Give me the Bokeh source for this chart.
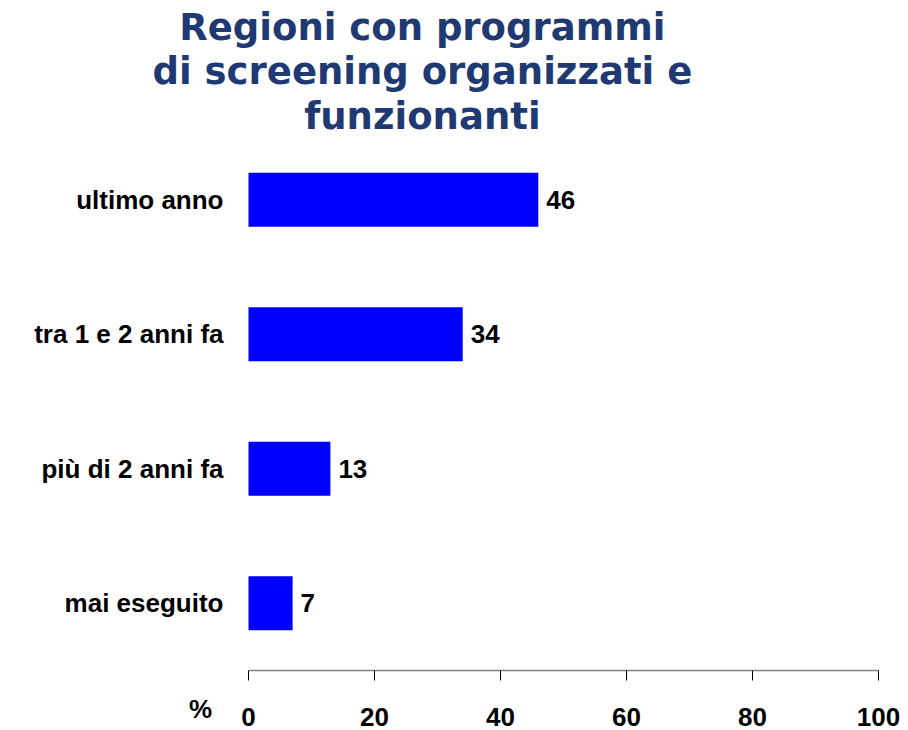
from bokeh.plotting import figure
from bokeh.models import Range1d, FixedTicker, ColumnDataSource
from bokeh.core.properties import value
from bokeh.embed import file_html
from bokeh.resources import INLINE

# ---- data ----
title_lines = ["Regioni con programmi", "di screening organizzati e", "funzionanti"]
categories = ["ultimo anno", "tra 1 e 2 anni fa", "più di 2 anni fa", "mai eseguito"]
values = [46, 34, 13, 7]
x_ticks = [0, 20, 40, 60, 80, 100]
axis_unit = "%"

n = len(categories)
ypos = [n - 1 - i for i in range(n)]

# ---- layout (pixels) ----
W, H = 906, 730
X0_PX, X100_PX = 248, 878          # where 0 and 100 fall
Y_TOP_PX, Y_BOT_PX = 132, 670      # top / bottom of the category band
sx = (X100_PX - X0_PX) / 100.0
sy = (Y_BOT_PX - Y_TOP_PX) / n
x_range = Range1d(-X0_PX / sx, 100 + (W - X100_PX) / sx)
y_range = Range1d(-0.5 - (H - Y_BOT_PX) / sy, n - 0.5 + Y_TOP_PX / sy)

src = ColumnDataSource(dict(
    y=ypos, v=values, lab=[str(v) for v in values], cat=categories,
    zero=[0] * n,
))

p = figure(width=W, height=H, output_backend="svg", toolbar_location=None,
           x_range=x_range, y_range=y_range, y_axis_location=None,
           min_border=0)
p.outline_line_color = None
p.grid.visible = False
p.background_fill_color = "white"
p.border_fill_color = "white"

p.hbar(y="y", right="v", left=0, height=0.40, source=src,
       fill_color="#0000FF", line_color=None)

# value labels
p.text(x="v", y="y", text="lab", source=src, x_offset=8,
       text_baseline="middle", text_align="left",
       text_font=value("Liberation Sans"), text_font_style="bold",
       text_font_size="26px", text_color="black")

# category labels
p.text(x="zero", y="y", text="cat", source=src, x_offset=-25,
       text_baseline="middle", text_align="right",
       text_font=value("Liberation Sans"), text_font_style="bold",
       text_font_size="26px", text_color="black")

# x axis, drawn at the bottom of the category band
xa = p.xaxis[0]
xa.fixed_location = -0.5
xa.bounds = (0, 100)
xa.ticker = FixedTicker(ticks=x_ticks)
xa.axis_line_color = "#808080"
xa.axis_line_width = 1.5
xa.major_tick_line_color = "black"
xa.major_tick_in = 0
xa.major_tick_out = 10
xa.minor_tick_line_color = None
xa.major_label_standoff = 27
xa.major_label_text_font = "Liberation Sans"
xa.major_label_text_font_style = "bold"
xa.major_label_text_font_size = "26px"
xa.major_label_text_color = "black"

# unit label left of the x axis numbers
p.text(x=[0], y=[-0.5], text=[axis_unit], x_offset=-48, y_offset=38,
       text_align="center", text_baseline="middle",
       text_font=value("Liberation Sans"), text_font_style="bold",
       text_font_size="26px", text_color="black")

# title, one text per line
tsrc = ColumnDataSource(dict(
    t=title_lines, x=[27.6] * 3, y=[4.28, 3.955, 3.617]
))
p.text(x="x", y="y", text="t", source=tsrc,
       text_align="center", text_baseline="alphabetic",
       text_font=value("DejaVu Sans"), text_font_style="bold",
       text_font_size="37px", text_color="#1F3A73")

open("out.html", "w").write(file_html(p, INLINE))
